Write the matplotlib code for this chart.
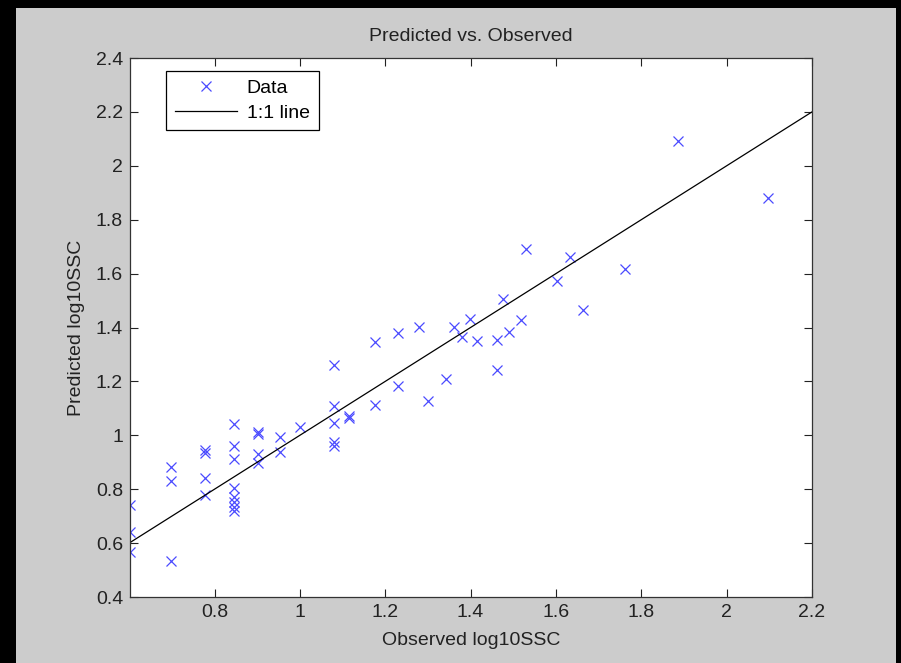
import matplotlib
matplotlib.use('Agg')
import matplotlib.pyplot as plt
from matplotlib.patches import Rectangle

plt.rcParams['font.family'] = ['Liberation Sans', 'DejaVu Sans']

# Observed vs predicted log10 SSC
observed = [0.602, 0.602, 0.602,
            0.699, 0.699, 0.699,
            0.778, 0.778, 0.778, 0.778,
            0.845, 0.845, 0.845, 0.845, 0.845, 0.845, 0.845, 0.845,
            0.903, 0.903, 0.903, 0.903,
            0.954, 0.954,
            1.000,
            1.079, 1.079, 1.079, 1.079, 1.079,
            1.114, 1.114,
            1.176, 1.176,
            1.230, 1.230,
            1.279, 1.301, 1.342, 1.362, 1.380, 1.398, 1.415,
            1.462, 1.462, 1.477, 1.491, 1.518, 1.531,
            1.602, 1.633, 1.663, 1.763, 1.886, 2.097]
predicted = [0.741, 0.642, 0.568,
             0.883, 0.830, 0.534,
             0.945, 0.935, 0.840, 0.778,
             1.041, 0.961, 0.912, 0.803, 0.772, 0.754, 0.735, 0.719,
             1.013, 1.004, 0.930, 0.898,
             0.995, 0.939,
             1.032,
             1.261, 1.109, 1.044, 0.976, 0.960,
             1.073, 1.065,
             1.345, 1.114,
             1.378, 1.184,
             1.403, 1.126, 1.209, 1.402, 1.365, 1.432, 1.351,
             1.355, 1.243, 1.505, 1.383, 1.428, 1.690,
             1.573, 1.660, 1.466, 1.617, 2.093, 1.879]
one_to_one = [0.602, 2.2]

xticks = [0.8, 1.0, 1.2, 1.4, 1.6, 1.8, 2.0, 2.2]
xticklabels = ['0.8', '1', '1.2', '1.4', '1.6', '1.8', '2', '2.2']
yticks = [0.4, 0.6, 0.8, 1.0, 1.2, 1.4, 1.6, 1.8, 2.0, 2.2, 2.4]
yticklabels = ['0.4', '0.6', '0.8', '1', '1.2', '1.4', '1.6', '1.8', '2', '2.2', '2.4']

W, H = 901, 663
fig = plt.figure(figsize=(W / 100, H / 100), dpi=100)
fig.patch.set_facecolor('black')
# grey window area inside the black border
fig.patches.append(Rectangle((16 / W, 0), (896 - 16) / W, (H - 8) / H,
                             transform=fig.transFigure, facecolor='#cccccc',
                             edgecolor='none', zorder=-10))

ax = fig.add_axes([130 / W, 1 - 597 / H, (812 - 130) / W, (597 - 58) / H])
ax.set_facecolor('white')

ax.plot(observed, predicted, 'x', color='#4a4aff', markersize=7.5,
        markeredgewidth=0.9, label='Data')
ax.plot(one_to_one, one_to_one, '-', color='black', linewidth=0.9,
        label='1:1 line')

ax.set_xlim(0.602, 2.2)
ax.set_ylim(0.4, 2.4)
ax.set_xticks(xticks)
ax.set_xticklabels(xticklabels)
ax.set_yticks(yticks)
ax.set_yticklabels(yticklabels)
ax.tick_params(direction='in', top=True, right=True, length=6, width=0.8,
               labelsize=14, colors='#222222', pad=5)

for s in ax.spines.values():
    s.set_color('#333333')
    s.set_linewidth(0.9)

ax.set_title('Predicted vs. Observed', fontsize=14, color='#222222', pad=12)
ax.set_xlabel('Observed log10SSC', fontsize=14, color='#222222', labelpad=8)
ax.set_ylabel('Predicted log10SSC', fontsize=14, color='#222222', labelpad=8)

leg = ax.legend(loc='upper left', bbox_to_anchor=(0.053, 0.976),
                borderaxespad=0, fontsize=14,
                fancybox=False, framealpha=1, edgecolor='black',
                handlelength=3.2, borderpad=0.45, labelspacing=0.35,
                handletextpad=0.5)
leg.get_frame().set_linewidth(0.9)

fig.savefig('out.png', dpi=100, facecolor=fig.get_facecolor())
